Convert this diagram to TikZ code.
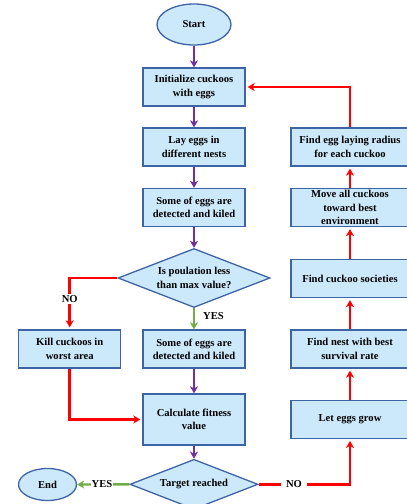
\documentclass[tikz,border=0pt]{standalone}
\usepackage{fontspec}
\setmainfont{Liberation Serif}
\usetikzlibrary{shapes.geometric,arrows.meta}
\definecolor{boxfill}{RGB}{204,233,251}
\definecolor{boxline}{RGB}{62,100,165}
\definecolor{flowpurple}{RGB}{112,48,160}
\definecolor{flowgreen}{RGB}{112,173,71}
\definecolor{flowred}{RGB}{255,0,0}
\begin{document}
\begin{tikzpicture}[x=1pt,y=-1pt,
  base/.style={draw=boxline,fill=boxfill,line width=1.3pt,inner sep=0pt,
    align=center,font=\fontsize{10.6}{13.3}\selectfont\bfseries},
  procbox/.style={base,rectangle,minimum width=102pt,minimum height=38pt},
  sidebox/.style={base,rectangle,minimum width=118pt,minimum height=38pt},
  termin/.style={base,ellipse},
  decide/.style={base,diamond,shape aspect=2.5},
  tip/.style={-{Stealth[length=7pt,width=8pt,inset=2pt]}},
  purpleflow/.style={tip,draw=flowpurple,line width=2.4pt},
  redflow/.style={tip,draw=flowred,line width=2.7pt,shorten >=2pt},
  greenflow/.style={tip,draw=flowgreen,line width=2.4pt},
  lbl/.style={font=\fontsize{10.6}{13.3}\selectfont\bfseries,inner sep=1pt}
]
\useasboundingbox (0,0) rectangle (407,504);

% main column
\node[termin,minimum width=74pt,minimum height=41pt] (start) at (194,24.5) {Start};
\node[procbox] (init) at (194,87) {Initialize cuckoos\\with eggs};
\node[procbox] (lay) at (194,147) {Lay eggs in\\different nests};
\node[procbox] (some1) at (194,207.5) {Some of eggs are\\detected and kiled};
\node[decide,minimum width=152pt,minimum height=59pt] (dec1) at (194,278) {Is poulation less\\than max value?};
\node[procbox] (some2) at (194,349) {Some of eggs are\\detected and kiled};
\node[procbox] (kill) at (69.7,349) {Kill cuckoos in\\worst area};
\node[procbox,minimum height=51pt] (calc) at (194,419.5) {Calculate fitness\\value};
\node[decide,minimum width=128pt,minimum height=50pt] (dec2) at (194,484.3) {Target reached};
\node[termin,minimum width=58pt,minimum height=32pt] (end) at (47.5,484.5) {End};

% right column
\node[sidebox] (radius) at (350,147) {Find egg laying radius\\for each cuckoo};
\node[sidebox] (move) at (350,207.5) {Move all cuckoos\\toward best\\environment};
\node[sidebox] (soc) at (350,278.5) {Find cuckoo societies};
\node[sidebox] (nest) at (350,349) {Find nest with best\\survival rate};
\node[sidebox] (grow) at (350,419.3) {Let eggs grow};

% sequential steps
\draw[purpleflow] (start) -- (init);
\draw[purpleflow] (init) -- (lay);
\draw[purpleflow] (lay) -- (some1);
\draw[purpleflow] (some1) -- (dec1);
\draw[purpleflow] (some2) -- (calc);
\draw[purpleflow] (calc) -- (dec2);

% population check
\draw[greenflow] (dec1) -- (some2);
\node[lbl,anchor=west] (yes1) at (202,316) {YES};
\draw[redflow] (dec1.west) -| (kill.north);
\node[lbl,fill=white] (no1) at (69.7,299) {NO};
\draw[redflow] (kill.south) |- (calc.west);

% termination check
\draw[greenflow] (dec2.west) -- (end.east);
\node[lbl,fill=white] (yes2) at (102,484.3) {YES};
\draw[redflow] (dec2.east) -| (grow.south);
\node[lbl,fill=white,inner xsep=5pt] (no2) at (294,484.3) {NO};

% update loop
\draw[redflow] (grow) -- (nest);
\draw[redflow] (nest) -- (soc);
\draw[redflow] (soc) -- (move);
\draw[redflow] (move) -- (radius);
\draw[redflow] (radius.north) |- (init.east);
\end{tikzpicture}
\end{document}
